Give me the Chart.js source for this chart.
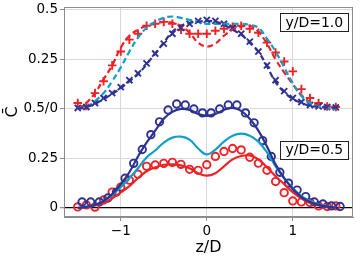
<!DOCTYPE html>
<html>
<head>
<meta charset="utf-8">
<script src="https://cdn.jsdelivr.net/npm/chart.js@4.4.1/dist/chart.umd.min.js"></script>
<style>
  html, body { margin: 0; padding: 0; background: #fff; }
  #wrap { width: 360px; height: 260px; }
</style>
</head>
<body>
<div id="wrap"><canvas id="chart" width="360" height="260"></canvas></div>
<script>
// z/D positions
const zLine = [-1.5,-1.4,-1.3,-1.2,-1.1,-1.0,-0.9,-0.8,-0.7,-0.6,-0.5,-0.4,-0.3,-0.2,-0.1,0.0,
               0.1,0.2,0.3,0.4,0.5,0.6,0.7,0.8,0.9,1.0,1.1,1.2,1.3,1.4,1.5];
const zNavyCircles = [-1.45,-1.35,-1.25,-1.15,-1.05,-0.95,-0.85,-0.75,-0.65,-0.55,-0.45,-0.35,-0.25,-0.15,-0.05,
                      0.05,0.15,0.25,0.35,0.45,0.55,0.65,0.75,0.85,0.95,1.05,1.15,1.25,1.35,1.45,1.55];

// y/D = 1.0 (plotted with +0.5 offset)
const topRedPlus   = [0.03,0.015,0.08,0.14,0.22,0.29,0.35,0.38,0.42,0.43,0.44,0.43,0.40,0.38,0.38,0.38,
                      0.395,0.405,0.415,0.42,0.405,0.385,0.335,0.285,0.24,0.19,0.10,0.055,0.03,0.012,0.01];
const topRedDash   = [0.0,0.03,0.08,0.15,0.22,0.31,0.37,0.40,0.42,0.43,0.44,0.435,0.42,0.385,0.335,0.315,
                      0.33,0.37,0.40,0.415,0.42,0.39,0.33,0.25,0.185,0.125,0.07,0.035,0.017,0.008,0.005];
const topCyanDash  = [0.0,0.01,0.04,0.08,0.14,0.21,0.29,0.36,0.41,0.44,0.46,0.467,0.46,0.45,0.44,0.43,
                      0.43,0.43,0.43,0.43,0.425,0.41,0.355,0.29,0.21,0.13,0.065,0.03,0.013,0.005,0.0];
const topNavyDash  = [0.0,0.01,0.025,0.05,0.075,0.105,0.14,0.175,0.225,0.28,0.335,0.39,0.42,0.435,0.44,0.445,
                      0.44,0.425,0.40,0.375,0.335,0.29,0.215,0.135,0.085,0.05,0.03,0.016,0.01,0.007,0.005];
const topNavyCross = [0.005,0.01,0.03,0.055,0.08,0.11,0.145,0.18,0.23,0.28,0.33,0.38,0.41,0.43,0.445,0.45,
                      0.445,0.43,0.41,0.38,0.34,0.29,0.22,0.145,0.09,0.055,0.035,0.02,0.013,0.01,0.008];

// y/D = 0.5
const botNavyCircle = [0.03,0.03,0.03,0.05,0.08,0.15,0.225,0.295,0.37,0.435,0.495,0.525,0.52,0.50,0.48,
                       0.48,0.50,0.52,0.52,0.48,0.43,0.34,0.26,0.18,0.125,0.09,0.057,0.03,0.02,0.01,0.007];
const botNavyLine   = [0.0,0.005,0.015,0.035,0.07,0.12,0.18,0.26,0.33,0.39,0.45,0.485,0.50,0.495,0.475,0.465,
                       0.475,0.495,0.505,0.49,0.45,0.39,0.31,0.22,0.15,0.095,0.055,0.03,0.015,0.006,0.002];
const botCyanLine   = [0.0,0.005,0.015,0.035,0.065,0.105,0.15,0.20,0.255,0.29,0.33,0.355,0.36,0.345,0.30,0.27,
                       0.295,0.335,0.365,0.375,0.365,0.335,0.28,0.21,0.15,0.10,0.06,0.035,0.018,0.008,0.003];
const botRedLine    = [0.0,0.005,0.012,0.025,0.048,0.078,0.11,0.15,0.185,0.205,0.218,0.22,0.215,0.20,0.175,0.163,
                       0.175,0.21,0.245,0.262,0.265,0.245,0.205,0.16,0.12,0.08,0.048,0.025,0.012,0.005,0.002];
const botRedCircle  = [0.005,0.015,0.004,0.04,0.08,0.105,0.14,0.17,0.21,0.217,0.225,0.23,0.22,0.195,0.19,0.218,
                       0.26,0.285,0.30,0.293,0.256,0.226,0.19,0.133,0.077,0.035,0.03,0.027,0.01,0.007,0.01];

const xTicks = [-1, 0, 1];
const yTickVals = [0, 0.25, 0.5, 0.75, 1.0];
const yTickLabels = ["0", "0.25", "0.5/0", "0.25", "0.5"];
const topOffset = 0.5;

const RED = "#ec2227", NAVY = "#2e3192", CYAN = "#109fc7";

function pts(xs, ys, off) {
  return xs.map((x, i) => ({ x: x, y: ys[i] + (off || 0) }));
}
function lineSet(xs, ys, off, color, dashed) {
  return { data: pts(xs, ys, off), showLine: true, borderColor: color, borderWidth: 2.2,
           borderDash: dashed ? [6, 3.5] : [], pointRadius: 0, tension: 0.4, fill: false };
}
function markSet(xs, ys, off, color, style) {
  return { data: pts(xs, ys, off), showLine: false, borderColor: color, backgroundColor: "rgba(0,0,0,0)",
           pointStyle: style, pointRadius: style === "circle" ? 3.7 : 4.3, pointBorderWidth: 1.9 };
}

const panelLabels = {
  id: "panelLabels",
  afterDraw(chart) {
    const { ctx, chartArea: a, scales } = chart;
    ctx.save();
    ctx.strokeStyle = "#8c8c8c";
    ctx.lineWidth = 1;
    ctx.strokeRect(a.left + 0.5, a.top + 0.5, a.right - a.left - 1, a.bottom - a.top - 1);
    ctx.font = "14px 'DejaVu Sans'";
    ctx.textAlign = "center";
    ctx.textBaseline = "middle";
    [["y/D=1.0", 0.937], ["y/D=0.5", 0.295]].forEach(([t, v]) => {
      const cx = scales.x.getPixelForValue(1.25);
      const cy = scales.y.getPixelForValue(v);
      const w = ctx.measureText(t).width + 10, h = 18;
      ctx.fillStyle = "#fff";
      ctx.fillRect(Math.round(cx - w / 2) + 0.5, Math.round(cy - h / 2) + 0.5, Math.round(w), h);
      ctx.strokeStyle = "#222";
      ctx.strokeRect(Math.round(cx - w / 2) + 0.5, Math.round(cy - h / 2) + 0.5, Math.round(w), h);
      ctx.fillStyle = "#000";
      ctx.fillText(t, cx, cy + 1);
    });
    ctx.restore();
  }
};

new Chart(document.getElementById("chart"), {
  type: "scatter",
  data: {
    datasets: [
      lineSet(zLine, topNavyDash, topOffset, NAVY, true),
      lineSet(zLine, topCyanDash, topOffset, CYAN, true),
      lineSet(zLine, topRedDash, topOffset, RED, true),
      markSet(zLine, topNavyCross, topOffset, NAVY, "crossRot"),
      markSet(zLine, topRedPlus, topOffset, RED, "cross"),
      lineSet(zLine, botNavyLine, 0, NAVY, false),
      lineSet(zLine, botCyanLine, 0, CYAN, false),
      lineSet(zLine, botRedLine, 0, RED, false),
      markSet(zNavyCircles, botNavyCircle, 0, NAVY, "circle"),
      markSet(zLine, botRedCircle, 0, RED, "circle")
    ]
  },
  options: {
    responsive: false,
    animation: false,
    layout: { padding: { top: 7, right: 7, left: 0, bottom: 0 } },
    plugins: { legend: { display: false }, tooltip: { enabled: false } },
    scales: {
      x: {
        type: "linear", min: -1.66, max: 1.70,
        afterBuildTicks: s => { s.ticks = xTicks.map(v => ({ value: v })); },
        afterFit: s => { s.height = 43; s.paddingLeft = 0; s.paddingRight = 0; },
        ticks: { color: "#000", font: { family: "DejaVu Sans", size: 13.5 }, padding: 2,
                 callback: v => (v < 0 ? "\u2212" + Math.abs(v) : String(v)) },
        grid: { color: "#d9d9d9", tickColor: "#8c8c8c", tickLength: 4 },
        border: { color: "#8c8c8c" },
        title: { display: true, text: "z/D", color: "#000", font: { family: "DejaVu Sans", size: 16 },
                 padding: { top: 0, bottom: 3 } }
      },
      y: {
        min: -0.046, max: 1.015,
        afterBuildTicks: s => { s.ticks = yTickVals.map(v => ({ value: v })); },
        afterFit: s => { s.width = 64; s.paddingTop = 0; s.paddingBottom = 0; },
        ticks: { color: "#000", font: { family: "DejaVu Sans", size: 13.5 }, padding: 2,
                 callback: (v, i) => yTickLabels[yTickVals.indexOf(v)] },
        grid: { color: c => (c.tick && c.tick.value === 0 ? "#000" : "#d9d9d9"),
                lineWidth: c => (c.tick && c.tick.value === 0 ? 1.3 : 1),
                tickColor: "#8c8c8c", tickLength: 4 },
        border: { color: "#8c8c8c" },
        title: { display: true, text: "C\u0304", color: "#000", font: { family: "DejaVu Sans", size: 16 },
                 padding: { top: 3, bottom: 0 } }
      }
    }
  },
  plugins: [panelLabels]
});
</script>
</body>
</html>
